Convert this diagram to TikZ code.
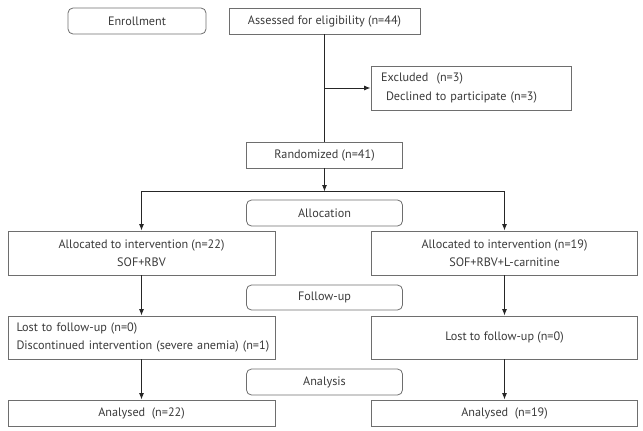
\documentclass[tikz,border=0pt]{standalone}
\usepackage{fontspec}
\setmainfont{PT Sans}
\usetikzlibrary{arrows.meta}
\definecolor{boxline}{HTML}{6E6E6E}
\definecolor{txt}{HTML}{3A3A3A}
\begin{document}
\begin{tikzpicture}[x=1pt,y=-1pt,
  font=\fontsize{12.2}{18.5}\selectfont,
  box/.style={draw=boxline,line width=0.8pt,rectangle,inner sep=0pt,text=txt,align=center},
  stage/.style={box,rounded corners=5pt},
  conn/.style={line width=1pt,draw=black!85},
  arr/.style={conn,-{Latex[length=6.5pt,width=5pt]}}]
\useasboundingbox (0,0) rectangle (643,431);
\node[stage,minimum width=138pt,minimum height=26pt] (enr) at (137,21) {Enrollment};
\node[box,minimum width=191pt,minimum height=26pt] (ass) at (324.5,21) {Assessed for eligibility (n=44)};
\node[box,minimum width=200pt,minimum height=44pt,text width=180pt,align=left,inner xsep=10pt] (exc) at (471,88) {\mbox{Excluded\ \ (n=3)}\\\mbox{\hspace{5pt}Declined to participate (n=3)}};
\node[box,minimum width=156pt,minimum height=26pt] (ran) at (324.5,155) {Randomized (n=41)};
\coordinate (split) at (324.5,191.5);
\node[stage,minimum width=156pt,minimum height=26pt] (alloc) at (324.5,213) {Allocation};
\node[box,minimum width=267pt,minimum height=44pt] (al) at (141.5,253) {Allocated to intervention (n=22)\\SOF+RBV};
\node[box,minimum width=266pt,minimum height=44pt] (ar) at (504.5,253) {Allocated to intervention (n=19)\\SOF+RBV+L-carnitine};
\node[stage,minimum width=156pt,minimum height=25pt] (fol) at (324.5,297.5) {Follow-up};
\node[box,minimum width=267pt,minimum height=43pt,text width=250pt,align=left,inner xsep=8.5pt] (ll) at (141.5,337.5) {\mbox{Lost to follow-up (n=0)}\\\mbox{Discontinued intervention (severe anemia) (n=1)}};
\node[box,minimum width=266pt,minimum height=43pt] (lr) at (504.5,337.5) {Lost to follow-up (n=0)};
\node[stage,minimum width=156pt,minimum height=26pt] (ana) at (324.5,382) {Analysis};
\node[box,minimum width=267pt,minimum height=26pt] (nl) at (141.5,413) {Analysed\ \ (n=22)};
\node[box,minimum width=266pt,minimum height=26pt] (nr) at (504.5,413) {Analysed\ \ (n=19)};
\draw[conn] (ass.south) -- (ran.north);
\draw[arr] (ass.south |- exc.west) -- (exc.west);
\draw[arr] (ran.south) -- (split);
\draw[arr] (split) -| (al.north);
\draw[arr] (split) -| (ar.north);
\draw[arr] (al.south) -- (ll.north);
\draw[arr] (ar.south) -- (lr.north);
\draw[arr] (ll.south) -- (nl.north);
\draw[arr] (lr.south) -- (nr.north);
\end{tikzpicture}
\end{document}
